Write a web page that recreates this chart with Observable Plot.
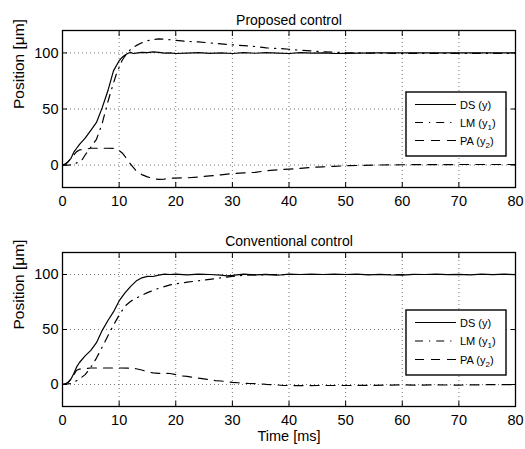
<!DOCTYPE html>
<html><head><meta charset="utf-8">
<script src="https://cdn.jsdelivr.net/npm/d3@7"></script>
<script src="https://cdn.jsdelivr.net/npm/@observablehq/plot@0.6"></script>
<style>
body{margin:0;background:#fff;font-family:"Liberation Sans",Arial,sans-serif}
#wrap{position:relative;width:525px;height:449px;overflow:hidden}
#wrap > svg{display:block}
#legend{position:absolute;left:0;top:0;pointer-events:none}
</style></head><body><div id="wrap"></div>
<script>
// ---- data ----
const titles = ["Proposed control", "Conventional control"];
const seriesNames = ["DS (y)", "LM (y1)", "PA (y2)"];
const xTicks = [0, 10, 20, 30, 40, 50, 60, 70, 80];
const yTicks = [0, 50, 100];
const yLabel = "Position [μm]";
const xLabel = "Time [ms]";

// Proposed control
const pDS_t = [0,0.5,1,1.5,2,2.5,3,4,5,6,7,8,9,10,10.5,11,11.5,12,12.5,13,14,15,16,17,18,19,20,22,24,26,28,30,32,34,36,38,40,42,44,46,48,50,55,60,65,70,75,80];
const pDS_v = [0,1,3,6,11.5,15,18.5,24,31,38,51,66,84,93,96,98,99.5,100.5,99.5,99.8,100.5,100.2,101,100.5,99.8,100,99.5,99.8,100.2,99.6,100,99.5,100.2,99.7,100.3,99.8,99.5,100.2,99.8,100,99.5,99.6,100,100,100,100,100,100];
const pLM_t = [0,1,2,2.5,3,3.5,4,5,6,7,8,8.5,9,9.5,10,10.5,11,11.5,12,13,14,15,16,17,18,20,22,24,26,28,30,32,34,36,38,40,42,44,46,48,50,55,60,65,70,75,80];
const pLM_v = [0,0,0.5,2,3,5,9,16,23,37,56,65,73,81,87,93,97,100,103,106.5,109,110.8,112,112.5,112.3,111.2,110.3,109.8,109,108,107.2,106.5,105.7,104.5,104,103.3,102.3,101.8,101,100.6,100.2,99.8,99.6,99.6,99.6,99.6,99.6];
const pPA_t = [0,0.5,1,1.5,2,2.5,3,4,5,6,7,8,9,9.5,10,10.5,11,11.5,12,12.5,13,14,15,16,17,18,19,20,22,24,26,28,30,32,34,36,38,40,42,44,46,48,50,55,60,65,70,75,80];
const pPA_v = [0,1,3,6,9,12,13.5,14,15,15,15,15,14.8,14,13,11,8,4.5,1,-2,-5,-8.5,-10.5,-12,-12.8,-12.5,-11.8,-11.6,-11.4,-10.6,-9.7,-8.7,-7.6,-7,-6.5,-5,-4.2,-3.6,-3,-2,-1.6,-1.1,-0.6,0,0.3,0.4,0.5,0.5,0.5];

// Conventional control
const cDS_t = [0,0.5,1,1.5,2,2.5,3,4,5,6,7,8,9,10,11,12,13,14,15,16,17,18,19,20,22,24,26,28,29,30,32,34,36,38,40,42,44,46,48,50,52,54,56,58,60,62,64,66,68,70,72,74,76,78,80];
const cDS_v = [0,0.5,2,5,10,16,20,26,31,38,49,58,66,76,83,89,94,97,98.3,98.2,99.5,100.3,100,100.4,99.6,100.3,100,99.5,98.8,99.2,100.3,99.6,100.2,99.3,100.3,100,100.3,100,100.4,100,100.3,99.7,100.2,99.6,99.4,100.2,100,100.4,99.8,100.2,99.6,100.3,99.8,100.4,99.8];
const cLM_t = [0,1,1.5,2,2.5,3,4,5,6,7,8,9,10,11,12,13,14,15,16,17,18,19,20,22,24,26,28,30,32,34,36,40,45,50,55,60,65,70,75,80];
const cLM_v = [0,0.5,1,2,3.5,5,9,15.6,24,34,44,54,63,71,75.5,78.5,81,83.5,85.5,87.5,89,90.5,91.5,93,94.3,95.6,97,98.3,99.3,99.6,99.8,100,100,100,100,100,100,100,100,100];
const cPA_t = [0,0.5,1,1.5,2,2.5,3,4,5,6,8,10,12,13,14,15,16,17,18,19,20,21,22,24,26,27,28,30,31,33,34.5,36,37.5,39,42,45,48,51,55,58,60,62,65,70,75,80];
const cPA_v = [0,0.5,2,5,9,13,14,14.5,15,15,15,15,14.8,14.3,13.2,11.5,10.5,10.2,10.1,10,9,7.8,7.4,5.8,4.4,3.6,3.2,1.9,1.6,0.9,0.8,0.1,-0.2,-0.9,-1,-0.9,-0.9,-0.9,-0.8,-0.5,-0.3,-0.6,-0.4,-0.5,-0.2,-0.2];

const dashes = [null, "8,6,1.2,6", "9,7"];
const toRows = (ts, vs) => ts.map((t, i) => ({t, v: vs[i]}));

const panels = [
  {title: titles[0], height: 220, marginTop: 30, marginBottom: 33, titleDy: -15, xlabel: null,
   series: [toRows(pDS_t, pDS_v), toRows(pLM_t, pLM_v), toRows(pPA_t, pPA_v)]},
  {title: titles[1], height: 229, marginTop: 32, marginBottom: 43, titleDy: -16, xlabel: xLabel,
   series: [toRows(cDS_t, cDS_v), toRows(cLM_t, cLM_v), toRows(cPA_t, cPA_v)]}
];

const wrap = document.getElementById("wrap");
const font = "'Liberation Sans', Arial, Helvetica, sans-serif";

for (const p of panels) {
  const lines = p.series.map((rows, i) => Plot.line(rows, {
    x: "t", y: "v", stroke: "#000", strokeWidth: 1.2,
    strokeDasharray: dashes[i] || undefined, curve: "linear"
  }));
  const marks = [
    Plot.gridX(xTicks.slice(1, -1), {stroke: "#777", strokeOpacity: 1, strokeDasharray: "1,3"}),
    Plot.gridY(yTicks, {stroke: "#777", strokeOpacity: 1, strokeDasharray: "1,3"}),
    ...lines,
    Plot.frame({stroke: "#000", strokeWidth: 1.3}),
    Plot.axisX(xTicks, {anchor: "bottom", tickSize: 0, tickPadding: 8, fontSize: 14.5, label: null}),
    Plot.axisX(xTicks, {anchor: "bottom", tickSize: -5, tickFormat: () => "", label: null}),
    Plot.axisX(xTicks, {anchor: "top", tickSize: -5, tickFormat: () => "", label: null}),
    Plot.axisY(yTicks, {anchor: "left", tickSize: 0, tickPadding: 4, fontSize: 14.5, label: null}),
    Plot.axisY(yTicks, {anchor: "left", tickSize: -5, tickFormat: () => "", label: null}),
    Plot.axisY(yTicks, {anchor: "right", tickSize: -5, tickFormat: () => "", label: null}),
    Plot.text([p.title], {text: d => d, frameAnchor: "top", dy: p.titleDy, fontSize: 14}),
    Plot.text([yLabel], {text: d => d, frameAnchor: "left", dx: -43, rotate: -90, fontSize: 15.5})
  ];
  if (p.xlabel) marks.push(Plot.text([p.xlabel], {text: d => d, frameAnchor: "bottom", dy: 34, fontSize: 14.5}));
  const chart = Plot.plot({
    width: 525, height: p.height,
    marginLeft: 62, marginRight: 10, marginTop: p.marginTop, marginBottom: p.marginBottom,
    style: {fontFamily: font, fontSize: "14px", color: "#000", background: "#fff"},
    x: {domain: [0, 80]},
    y: {domain: [-20, 120]},
    marks
  });
  wrap.appendChild(chart);
}

// ---- legends (overlay) ----
const leg = d3.select(wrap).append("svg").attr("id", "legend")
  .attr("width", 525).attr("height", 449).style("font-family", font);
const boxes = [{x: 406, y: 92, w: 100, h: 64, rows: [104.5, 122.5, 140.5]},
               {x: 406, y: 310, w: 100, h: 65, rows: [322.5, 341, 359.5]}];
for (const b of boxes) {
  leg.append("rect").attr("x", b.x).attr("y", b.y).attr("width", b.w).attr("height", b.h)
    .attr("fill", "#fff").attr("stroke", "#000").attr("stroke-width", 1.4);
  b.rows.forEach((ry, i) => {
    leg.append("line").attr("x1", b.x + 9).attr("x2", b.x + 50).attr("y1", ry).attr("y2", ry)
      .attr("stroke", "#000").attr("stroke-width", 1.2)
      .attr("stroke-dasharray", dashes[i]);
    const name = seriesNames[i];
    const t = leg.append("text").attr("x", b.x + 54).attr("y", ry + 4).attr("font-size", 11);
    const m = name.match(/^(.*\(y)(\d)?(\))$/);
    t.append("tspan").text(m[1]);
    if (m[2]) t.append("tspan").attr("font-size", 8).attr("dy", 3).text(m[2]);
    t.append("tspan").attr("dy", m[2] ? -3 : 0).text(m[3]);
  });
}
</script></body></html>
